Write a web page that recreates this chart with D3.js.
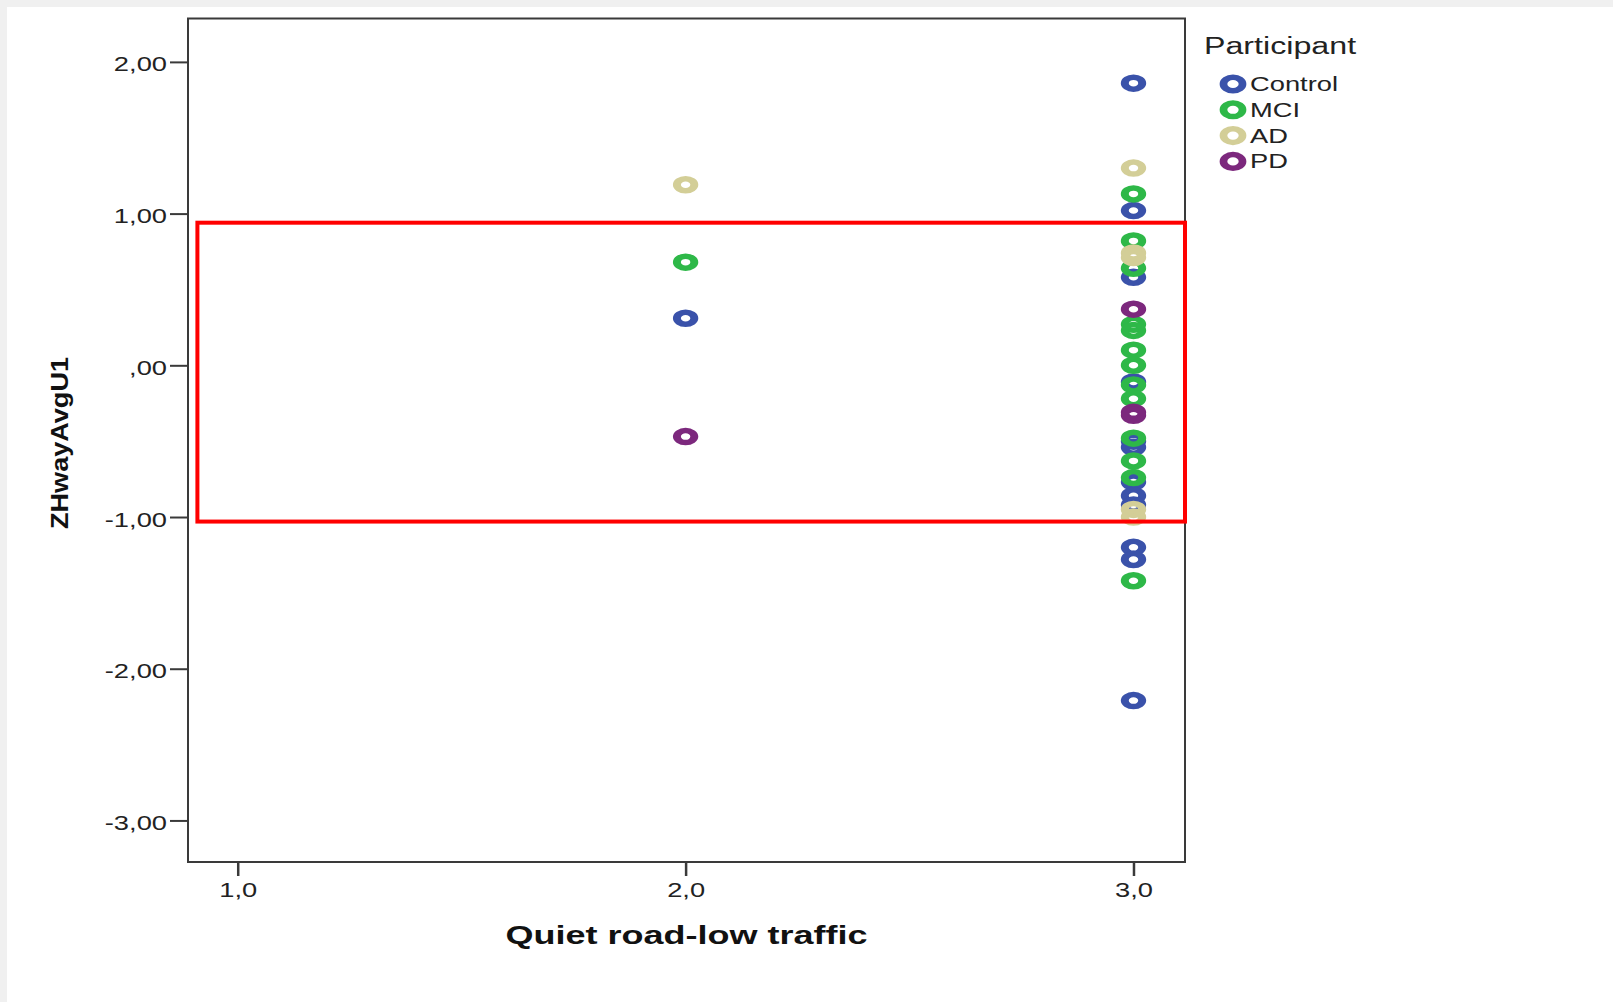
<!DOCTYPE html>
<html>
<head>
<meta charset="utf-8">
<script src="https://cdn.jsdelivr.net/npm/d3@7"></script>
<style>
  html, body { margin: 0; padding: 0; background: #f0f0f0; }
  svg { display: block; }
</style>
</head>
<body>
<svg id="chart" width="1613" height="1002"></svg>
<script>
// ---- data ----
const groups = ["Control", "MCI", "AD", "PD"];
const groupColors = ["#3A52AA", "#2EB848", "#D3CE97", "#7C287D"];

// [Quiet road-low traffic, ZHwayAvgU1]
const controlPts = [[2, 0.31], [3, 1.86], [3, 1.02], [3, 0.58], [3, -0.11], [3, -0.50], [3, -0.54],
                    [3, -0.77], [3, -0.86], [3, -0.92], [3, -1.20], [3, -1.28], [3, -2.21]];
const mciPts = [[2, 0.68], [3, 1.13], [3, 0.82], [3, 0.64], [3, 0.27], [3, 0.23], [3, 0.10], [3, 0.00],
                [3, -0.13], [3, -0.22], [3, -0.48], [3, -0.63], [3, -0.74], [3, -1.42]];
const adPts = [[2, 1.19], [3, 1.30], [3, 0.74], [3, 0.71], [3, -0.95], [3, -1.00]];
const pdPts = [[2, -0.47], [3, 0.37], [3, -0.31], [3, -0.33]];
const groupPts = [controlPts, mciPts, adPts, pdPts];

const xTicks = [1, 2, 3];
const yTicks = [2, 1, 0, -1, -2, -3];
const xDomain = [0.889, 3.115];
const yDomain = [-3.274, 2.286];

// highlighted band (x range, y range in data units)
const highlightX = [0.91, 3.115];
const highlightY = [-1.03, 0.94];

const xTitle = "Quiet road-low traffic";
const yTitle = "ZHwayAvgU1";
const legendTitle = "Participant";

// ---- layout ----
const W = 1613, H = 1002;
const frame = { left: 188, top: 18.5, right: 1185, bottom: 862 };
const SX = 1.4;          // horizontal stretch of glyphs and markers
const FONT = '"Liberation Sans", Arial, sans-serif';
const INK = "#3a3a3a";

const svg = d3.select("#chart");

svg.append("rect").attr("width", W).attr("height", H).attr("fill", "#f0f0f0");
svg.append("rect").attr("x", 7).attr("y", 7).attr("width", W - 7).attr("height", H - 7).attr("fill", "#ffffff");

const x = d3.scaleLinear().domain(xDomain).range([frame.left, frame.right]);
const y = d3.scaleLinear().domain(yDomain).range([frame.bottom, frame.top]);

const loc = d3.formatLocale({ decimal: ",", thousands: ".", grouping: [3], currency: ["", ""], minus: "-" });
const fmtY = v => loc.format(".2f")(v).replace(/^0,/, ",");
const fmtX = v => loc.format(".1f")(v);

// y axis
const gy = svg.append("g")
  .attr("transform", `translate(${frame.left},0)`)
  .call(d3.axisLeft(y).tickValues(yTicks).tickSize(18).tickFormat(fmtY));
gy.select(".domain").remove();
gy.attr("font-family", FONT).attr("font-size", 19.5);
gy.selectAll(".tick line").attr("stroke", INK).attr("stroke-width", 2);
gy.selectAll(".tick text")
  .attr("x", 0).attr("dy", null).attr("fill", "#222")
  .attr("transform", `translate(-21,9) scale(${SX},1)`);

// x axis
const gx = svg.append("g")
  .attr("transform", `translate(0,${frame.bottom})`)
  .call(d3.axisBottom(x).tickValues(xTicks).tickSize(14).tickFormat(fmtX));
gx.select(".domain").remove();
gx.attr("font-family", FONT).attr("font-size", 19.5);
gx.selectAll(".tick line").attr("stroke", INK).attr("stroke-width", 2.5);
gx.selectAll(".tick text")
  .attr("y", 0).attr("dy", null).attr("fill", "#222")
  .attr("transform", `translate(0,35) scale(${SX},1)`);

// plot frame
svg.append("rect")
  .attr("x", frame.left).attr("y", frame.top)
  .attr("width", frame.right - frame.left).attr("height", frame.bottom - frame.top)
  .attr("fill", "none").attr("stroke", INK).attr("stroke-width", 2);

// points
groups.forEach((g, i) => {
  svg.append("g").attr("class", "series-" + g)
    .selectAll("g")
    .data(groupPts[i])
    .join("g")
    .attr("transform", d => `translate(${x(d[0])},${y(d[1])}) scale(1.45,1)`)
    .append("circle")
    .attr("r", 6)
    .attr("fill", "none")
    .attr("stroke", groupColors[i])
    .attr("stroke-width", 5.5);
});

// axis titles
svg.append("text")
  .attr("transform", `translate(${(frame.left + frame.right) / 2},944)`)
  .attr("text-anchor", "middle")
  .attr("font-family", FONT).attr("font-weight", "bold").attr("font-size", 26)
  .attr("textLength", 362).attr("lengthAdjust", "spacingAndGlyphs")
  .attr("fill", "#111")
  .text(xTitle);

svg.append("text")
  .attr("transform", `translate(68,443) rotate(-90)`)
  .attr("text-anchor", "middle")
  .attr("font-family", FONT).attr("font-weight", "bold").attr("font-size", 24)
  .attr("textLength", 172).attr("lengthAdjust", "spacingAndGlyphs")
  .attr("fill", "#111")
  .text(yTitle);

// legend
const lg = svg.append("g").attr("font-family", FONT).attr("fill", "#222");
lg.append("text")
  .attr("transform", `translate(1204,54) scale(${SX},1)`)
  .attr("font-size", 23)
  .text(legendTitle);
const items = lg.selectAll("g.item").data(groups).join("g")
  .attr("class", "item")
  .attr("transform", (d, i) => `translate(0,${84 + i * 25.8})`);
items.append("g")
  .attr("transform", `translate(1233,0) scale(1.4,1)`)
  .append("circle")
  .attr("r", 6.8)
  .attr("fill", "none")
  .attr("stroke", (d, i) => groupColors[i])
  .attr("stroke-width", 5.5);
items.append("text")
  .attr("transform", `translate(1250,7) scale(${SX},1)`)
  .attr("font-size", 19.5)
  .text(d => d);

// highlighted band
svg.append("rect")
  .attr("x", x(highlightX[0])).attr("y", y(highlightY[1]))
  .attr("width", x(highlightX[1]) - x(highlightX[0]))
  .attr("height", y(highlightY[0]) - y(highlightY[1]))
  .attr("fill", "none").attr("stroke", "#ff0000").attr("stroke-width", 4);
</script>
</body>
</html>
